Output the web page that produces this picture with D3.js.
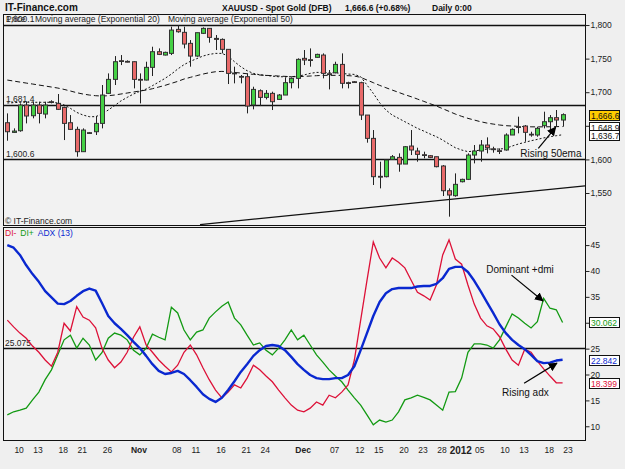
<!DOCTYPE html>
<html lang="en">
<head>
    <meta charset="UTF-8">
    <title>XAUUSD - Spot Gold (DFB)</title>
    <script src="https://d3js.org/d3.v7.min.js"></script>
    <style>
        body { margin: 0; background: #efefef; }
        svg { display: block; font-family: "Liberation Sans", Arial, sans-serif; }
        .axis text { font-size: 8.5px; fill: #222; }
        .axis line { stroke: #222; }
        .axis path { display: none; }
    </style>
</head>
<body>
    <div id="chart"></div>
    <script>
        // trading days shown (Sunday sessions included)
        const dates = [
            "2011-10-09","2011-10-10","2011-10-11","2011-10-12","2011-10-13","2011-10-14","2011-10-16","2011-10-17","2011-10-18","2011-10-19",
            "2011-10-20","2011-10-21","2011-10-23","2011-10-24","2011-10-25","2011-10-26","2011-10-27","2011-10-28","2011-10-30","2011-10-31",
            "2011-11-01","2011-11-02","2011-11-03","2011-11-04","2011-11-06","2011-11-07","2011-11-08","2011-11-09","2011-11-10","2011-11-11",
            "2011-11-13","2011-11-14","2011-11-15","2011-11-16","2011-11-17","2011-11-18","2011-11-20","2011-11-21","2011-11-22","2011-11-23",
            "2011-11-24","2011-11-25","2011-11-27","2011-11-28","2011-11-29","2011-11-30","2011-12-01","2011-12-02","2011-12-04","2011-12-05",
            "2011-12-06","2011-12-07","2011-12-08","2011-12-09","2011-12-11","2011-12-12","2011-12-13","2011-12-14","2011-12-15","2011-12-16",
            "2011-12-18","2011-12-19","2011-12-20","2011-12-21","2011-12-22","2011-12-23","2011-12-26","2011-12-27","2011-12-28","2011-12-29",
            "2011-12-30","2012-01-02","2012-01-03","2012-01-04","2012-01-05","2012-01-06","2012-01-08","2012-01-09","2012-01-10","2012-01-11",
            "2012-01-12","2012-01-13","2012-01-15","2012-01-16","2012-01-17","2012-01-18","2012-01-19","2012-01-20","2012-01-23"
        ];

        const open = [
            1654.6,1640.2,1642.7,1680.9,1665.0,1680.9,1667.5,1685.9,1683.4,1677.4,
            1654.6,1644.7,1611.5,1639.8,1641.2,1653.6,1698.3,1719.1,1746.9,1745.9,
            1745.4,1719.1,1718.1,1737.0,1760.3,1755.3,1757.8,1793.5,1789.1,1772.7,
            1753.8,1787.6,1795.0,1780.1,1778.6,1763.8,1728.5,1723.5,1723.1,1681.0,
            1702.2,1692.3,1698.3,1689.3,1695.8,1714.2,1720.6,1750.4,1748.4,1751.9,
            1755.3,1727.5,1729.0,1741.4,1714.2,1715.6,1714.2,1666.0,1631.3,1574.8,
            1574.3,1600.1,1603.0,1593.1,1619.9,1612.5,1607.0,1605.5,1604.0,1590.2,
            1553.4,1546.0,1566.8,1570.3,1606.5,1612.5,1621.4,1615.7,1613.0,1614.0,
            1636.3,1648.7,1649.7,1637.5,1636.3,1650.2,1656.1,1662.1,1658.6
        ];
        const high = [
            1668.5,1646.2,1683.4,1685.9,1685.9,1685.9,1685.9,1688.0,1697.3,1678.5,
            1666.0,1648.7,1646.2,1640.8,1664.6,1710.7,1728.0,1753.8,1755.3,1747.4,
            1745.9,1728.0,1745.4,1767.7,1765.2,1760.3,1797.5,1800.0,1797.5,1777.6,
            1788.6,1796.5,1795.0,1785.1,1780.1,1763.8,1738.0,1725.6,1728.0,1708.2,
            1704.2,1703.2,1700.8,1697.3,1722.1,1722.1,1750.4,1762.8,1765.2,1757.3,
            1757.8,1733.0,1745.4,1757.8,1715.6,1716.6,1715.6,1666.0,1643.7,1596.6,
            1599.1,1606.5,1609.0,1619.9,1643.7,1617.4,1611.5,1606.5,1604.0,1591.6,
            1556.9,1579.2,1571.3,1609.0,1621.4,1628.8,1632.8,1618.9,1616.4,1638.8,
            1646.2,1663.6,1651.2,1641.2,1648.7,1671.0,1666.0,1673.5,1668.5
        ];
        const low = [
            1627.8,1639.8,1641.2,1653.6,1661.1,1653.6,1661.1,1683.4,1673.5,1628.8,
            1643.7,1604.0,1611.5,1638.3,1636.3,1646.2,1697.3,1710.7,1740.4,1744.4,
            1705.7,1683.4,1717.6,1724.1,1755.3,1754.8,1755.3,1788.6,1765.2,1738.0,
            1752.8,1786.6,1773.7,1762.8,1757.8,1712.2,1713.2,1713.2,1668.5,1674.5,
            1679.4,1689.3,1673.5,1688.8,1695.8,1705.7,1705.7,1740.4,1738.0,1751.4,
            1720.6,1704.2,1728.0,1705.7,1705.7,1714.2,1658.6,1624.9,1561.9,1556.9,
            1573.3,1599.1,1581.7,1593.1,1606.5,1596.6,1601.6,1602.0,1588.2,1545.5,
            1514.8,1544.5,1565.8,1569.3,1594.1,1596.6,1609.0,1610.0,1608.0,1613.0,
            1636.3,1638.8,1626.4,1633.8,1633.8,1646.2,1643.7,1648.7,1648.7
        ];
        const close = [
            1641.2,1642.2,1680.9,1664.6,1680.9,1668.5,1680.9,1685.0,1674.5,1653.6,
            1644.7,1611.5,1643.7,1639.3,1653.6,1695.8,1719.1,1745.4,1746.4,1745.4,
            1719.1,1718.6,1737.0,1760.3,1756.3,1759.3,1792.5,1790.0,1771.7,1753.8,
            1788.6,1795.0,1781.6,1778.6,1763.8,1728.0,1728.0,1723.1,1679.4,1704.2,
            1692.3,1698.3,1685.9,1695.8,1714.2,1720.6,1748.9,1747.9,1747.9,1756.3,
            1728.0,1727.0,1741.4,1713.2,1713.7,1715.2,1666.0,1631.3,1574.3,1574.3,
            1599.1,1604.0,1593.1,1618.9,1614.0,1607.5,1606.5,1603.0,1589.2,1553.4,
            1547.0,1562.9,1570.3,1606.5,1612.5,1621.4,1617.4,1615.4,1612.9,1636.3,
            1644.7,1648.4,1640.3,1637.2,1646.2,1656.1,1662.1,1658.6,1666.6
        ];

        const ema20 = [
            1684.0,1684.5,1685.0,1685.0,1685.0,1685.0,1685.0,1685.0,1684.0,1681.0,
            1676.0,1670.0,1666.0,1663.6,1663.6,1667.5,1673.5,1680.0,1687.0,1692.3,
            1697.3,1701.3,1704.7,1709.7,1715.1,1720.6,1727.0,1734.5,1741.0,1745.9,
            1749.9,1753.8,1756.3,1757.8,1757.8,1753.8,1745.4,1738.0,1732.0,1728.0,
            1726.0,1725.0,1724.0,1723.0,1723.0,1723.0,1724.0,1725.6,1728.0,1729.5,
            1729.5,1729.0,1729.0,1728.0,1727.0,1726.5,1723.0,1710.7,1698.3,1684.4,
            1673.5,1666.0,1661.1,1656.1,1651.2,1646.2,1642.2,1637.8,1633.8,1628.8,
            1622.9,1617.4,1614.0,1611.5,1612.5,1614.0,1615.4,1615.4,1615.4,1616.4,
            1619.9,1622.9,1625.4,1627.8,1629.8,1632.0,1633.8,1635.3,1636.7
        ];
        const ema50 = [
            1718.1,1716.6,1715.1,1713.6,1712.2,1710.7,1709.2,1707.7,1706.2,1704.2,
            1701.8,1699.3,1697.3,1695.8,1694.8,1694.3,1694.8,1695.8,1697.3,1698.8,
            1700.3,1701.8,1703.2,1705.2,1707.7,1710.2,1713.2,1716.1,1719.6,1722.1,
            1724.6,1727.0,1729.0,1730.5,1731.0,1730.5,1729.5,1728.5,1727.5,1726.6,
            1725.6,1725.1,1724.6,1724.1,1723.6,1723.1,1723.1,1723.6,1724.1,1724.6,
            1725.1,1725.1,1725.1,1725.1,1724.6,1724.1,1722.1,1718.1,1714.2,1710.2,
            1706.7,1703.2,1699.8,1696.3,1693.3,1689.8,1686.4,1682.9,1679.4,1675.5,
            1671.5,1667.5,1664.1,1661.1,1658.6,1656.1,1654.1,1652.6,1651.2,1650.2,
            1649.7,1649.2,1648.7,1648.5,1648.4,1648.5,1648.6,1648.8,1648.9
        ];

        const diMinus = [
            30.5,29.2,28.0,27.0,25.5,24.3,22.8,21.6,24.3,29.9,
            28.4,33.1,31.1,30.5,29.0,25.1,22.8,21.3,22.4,24.3,
            27.2,29.2,25.7,24.3,22.8,21.6,20.5,21.8,24.3,25.7,
            23.8,21.3,19.0,17.0,15.5,16.6,18.0,17.4,19.3,21.8,
            20.9,19.7,18.6,17.0,15.5,14.1,13.1,12.8,13.5,14.7,
            14.1,16.0,15.5,16.6,18.0,22.8,30.5,38.2,45.6,42.5,
            40.6,42.5,41.7,40.6,38.2,35.9,35.2,34.4,37.3,43.1,
            46.0,42.3,41.3,37.3,33.6,30.9,29.4,28.8,27.3,24.9,
            22.8,21.8,24.9,24.3,22.6,21.1,19.7,18.4,18.399
        ];
        const diPlus = [
            12.2,12.8,13.1,13.5,15.1,16.6,19.0,20.9,23.8,26.7,
            27.6,25.1,27.0,25.7,22.8,24.2,27.0,28.0,27.6,26.7,
            24.7,23.8,25.1,27.8,27.2,26.7,33.0,31.9,28.6,26.7,
            28.2,28.6,30.9,32.1,33.2,34.0,30.9,29.6,27.6,25.7,
            26.1,24.7,23.8,25.1,26.7,28.6,26.7,27.6,25.7,23.8,
            22.4,20.9,19.7,18.6,17.0,15.5,14.1,12.2,10.3,11.2,
            10.8,11.2,12.8,15.1,15.5,16.0,15.6,15.1,14.1,13.1,
            16.6,16.7,19.3,24.3,25.9,25.9,25.7,25.1,26.7,29.2,
            31.7,30.9,29.9,29.0,30.2,34.7,32.8,32.5,30.062
        ];
        const adx = [
            45.0,44.5,43.1,41.1,39.4,37.9,36.1,34.9,33.7,33.6,
            34.2,35.2,36.1,36.6,36.2,33.8,31.3,29.9,28.8,27.6,
            26.3,25.1,23.6,22.0,20.7,20.1,20.3,20.7,20.1,18.9,
            17.6,16.2,15.3,14.7,15.5,17.0,18.7,20.5,22.0,23.6,
            24.7,25.5,25.7,25.5,24.7,23.4,22.0,20.9,19.9,19.3,
            19.1,19.1,19.3,19.3,19.9,21.6,24.7,28.0,31.3,34.0,
            35.7,36.5,36.7,36.7,36.7,37.0,37.1,37.1,37.5,38.6,
            40.4,40.8,40.8,39.8,38.1,36.1,34.0,31.9,29.7,28.0,
            26.7,25.7,24.9,23.8,22.6,22.2,22.3,22.7,22.842
        ];

        const tickDates = ["2011-10-10","2011-10-13","2011-10-18","2011-10-21","2011-10-26","2011-11-01","2011-11-08","2011-11-11",
            "2011-11-16","2011-11-21","2011-11-24","2011-12-01","2011-12-07","2011-12-12","2011-12-15","2011-12-20","2011-12-23",
            "2011-12-28","2012-01-02","2012-01-05","2012-01-10","2012-01-13","2012-01-18","2012-01-23"];
        const tickLabels = ["10","13","18","21","26","Nov","08","11","16","21","24","Dec","07","12","15","20","23","28","2012","05","10","13","18","23"];

        const priceTicks = [1550, 1600, 1650, 1700, 1750, 1800];
        const dmiTicks = [10, 15, 20, 25, 30, 35, 40, 45];
        const priceLevels = [1800.1, 1681.4, 1600.6];
        const dmiLevels = [25.075];
        // drawn support line, [bar index, price]
        const trendLine = [[30.54, 1503.0], [91.55, 1560.7]];

        const W = 625, H = 469;
        const left = 3.5, right = 585.5;
        const top1 = 14.5, bot1 = 225.5, top2 = 227.5, bot2 = 440.5;

        const svg = d3.select("#chart").append("svg")
            .attr("width", W).attr("height", H);

        svg.append("rect").attr("width", W).attr("height", H).attr("fill", "#efefef");

        const x = d3.scalePoint().domain(dates).range([7.3, 562.6]);
        const xi = i => x(dates[0]) + i * x.step();
        const yP = d3.scaleLinear().domain([1500.9, 1816.4]).range([226, 14]);
        const yI = d3.scaleLinear().domain([7.35, 48.3]).range([440, 228]);

        const defs = svg.append("defs");
        defs.append("clipPath").attr("id", "clipTop").append("rect")
            .attr("x", left).attr("y", top1).attr("width", right - left).attr("height", bot1 - top1);
        defs.append("clipPath").attr("id", "clipBot").append("rect")
            .attr("x", left).attr("y", top2).attr("width", right - left).attr("height", bot2 - top2);
        defs.append("marker").attr("id", "arrow")
            .attr("viewBox", "0 0 10 10").attr("refX", 9).attr("refY", 5)
            .attr("markerWidth", 9).attr("markerHeight", 9).attr("markerUnits", "userSpaceOnUse")
            .attr("orient", "auto")
            .append("path").attr("d", "M0,0L10,5L0,10z").attr("fill", "#000");

        // panels
        [[top1, bot1], [top2, bot2]].forEach(([a, b]) => {
            svg.append("rect")
                .attr("x", left).attr("y", a).attr("width", right - left).attr("height", b - a)
                .attr("fill", "#f2f2f2").attr("stroke", "#111").attr("stroke-width", 1);
        });

        // header
        svg.append("text").attr("x", 5).attr("y", 11)
            .attr("font-size", "10px").attr("font-weight", "bold").attr("fill", "#111")
            .text("IT-Finance.com");
        svg.append("text").attr("x", 222).attr("y", 11)
            .attr("font-size", "8.5px").attr("font-weight", "bold").attr("fill", "#111")
            .text("XAUUSD - Spot Gold (DFB)");
        svg.append("text").attr("x", 345).attr("y", 11)
            .attr("font-size", "8.5px").attr("font-weight", "bold").attr("fill", "#111")
            .text("1,666.6 (+0.68%)");
        svg.append("text").attr("x", 432).attr("y", 11)
            .attr("font-size", "8.5px").attr("font-weight", "bold").attr("fill", "#111")
            .text("Daily 0:00");

        const gTop = svg.append("g").attr("clip-path", "url(#clipTop)");
        const gBot = svg.append("g").attr("clip-path", "url(#clipBot)");

        // horizontal levels
        gTop.selectAll(".lvl").data(priceLevels).enter().append("line")
            .attr("x1", left).attr("x2", right)
            .attr("y1", d => Math.round(yP(d)) + 0.5).attr("y2", d => Math.round(yP(d)) + 0.5)
            .attr("stroke", "#111").attr("stroke-width", 1.3);
        gTop.selectAll(".lvlText").data(priceLevels).enter().append("text")
            .attr("x", 6).attr("y", d => yP(d) - 2.5)
            .attr("font-size", "8.5px").attr("fill", "#222")
            .text(d => d3.format(",.1f")(d));

        gBot.selectAll(".lvl").data(dmiLevels).enter().append("line")
            .attr("x1", left).attr("x2", right)
            .attr("y1", d => Math.round(yI(d)) + 0.5).attr("y2", d => Math.round(yI(d)) + 0.5)
            .attr("stroke", "#111").attr("stroke-width", 1.3);
        gBot.selectAll(".lvlText").data(dmiLevels).enter().append("text")
            .attr("x", 5).attr("y", d => yI(d) - 2.5)
            .attr("font-size", "8.5px").attr("fill", "#222")
            .text(d => d3.format(".3f")(d));

        // trend line
        gTop.append("line")
            .attr("x1", xi(trendLine[0][0])).attr("y1", yP(trendLine[0][1]))
            .attr("x2", xi(trendLine[1][0])).attr("y2", yP(trendLine[1][1]))
            .attr("stroke", "#111").attr("stroke-width", 1.3);

        // moving averages
        const lineP = d3.line().x((d, i) => x(dates[i])).y(d => yP(d));
        gTop.append("path").attr("d", lineP(ema50))
            .attr("fill", "none").attr("stroke", "#111").attr("stroke-width", 1)
            .attr("stroke-dasharray", "5,3");
        gTop.append("path").attr("d", lineP(ema20))
            .attr("fill", "none").attr("stroke", "#111").attr("stroke-width", 1)
            .attr("stroke-dasharray", "2,2");

        // candles
        const candles = dates.map((d, i) => ({date: d, o: open[i], h: high[i], l: low[i], c: close[i]}));
        const cg = gTop.selectAll(".candle").data(candles).enter().append("g");
        cg.append("line")
            .attr("x1", d => Math.round(x(d.date)) + 0.5).attr("x2", d => Math.round(x(d.date)) + 0.5)
            .attr("y1", d => yP(d.h)).attr("y2", d => yP(d.l))
            .attr("stroke", "#222").attr("stroke-width", 1);
        cg.append("rect")
            .attr("x", d => Math.round(x(d.date)) - 1.5)
            .attr("y", d => yP(Math.max(d.o, d.c)))
            .attr("width", 4)
            .attr("height", d => Math.max(0.8, Math.abs(yP(d.o) - yP(d.c))))
            .attr("fill", d => d.c >= d.o ? "#45d045" : "#e86a6a")
            .attr("stroke", "#333").attr("stroke-width", 1);

        // upper legend
        gTop.append("text").attr("x", 6).attr("y", 22)
            .attr("font-size", "8.5px").attr("fill", "#222").text("Price");
        gTop.append("text").attr("x", 35).attr("y", 22)
            .attr("font-size", "8.5px").attr("fill", "#222").text("Moving average (Exponential 20)");
        gTop.append("text").attr("x", 168).attr("y", 22)
            .attr("font-size", "8.5px").attr("fill", "#222").text("Moving average (Exponential 50)");
        gTop.append("text").attr("x", 5).attr("y", 224)
            .attr("font-size", "8.5px").attr("fill", "#222").text("\u00a9 IT-Finance.com");

        // DMI lines
        const lineI = d3.line().x((d, i) => x(dates[i])).y(d => yI(d));
        gBot.append("path").attr("d", lineI(diPlus))
            .attr("fill", "none").attr("stroke", "#139a13").attr("stroke-width", 1.3);
        gBot.append("path").attr("d", lineI(diMinus))
            .attr("fill", "none").attr("stroke", "#dd1138").attr("stroke-width", 1.3);
        gBot.append("path").attr("d", lineI(adx))
            .attr("fill", "none").attr("stroke", "#0a28d0").attr("stroke-width", 2.4)
            .attr("stroke-linejoin", "round");

        const leg = svg.append("text").attr("x", 5).attr("y", 236).attr("font-size", "8.5px");
        leg.append("tspan").attr("fill", "#dd1138").text("DI-");
        leg.append("tspan").attr("fill", "#139a13").attr("dx", 4).text("DI+");
        leg.append("tspan").attr("fill", "#0a28d0").attr("dx", 4).text("ADX (13)");

        // annotations
        const notes = [
            {panel: "top", text: "Rising 50ema", tx: 81.3, ty: 1603, from: [84.15, 1616.5], to: [86.9, 1647.8]},
            {panel: "bot", text: "Dominant +dmi", tx: 75.9, ty: 39.6, from: [79.9, 39.2], to: [84.9, 34.2]},
            {panel: "bot", text: "Rising adx", tx: 78.4, ty: 15.9, from: [81.9, 18.3], to: [87.1, 22.2]}
        ];
        notes.forEach(n => {
            const ys = n.panel === "top" ? yP : yI;
            svg.append("text").attr("x", xi(n.tx)).attr("y", ys(n.ty))
                .attr("font-size", "10px").attr("fill", "#111").text(n.text);
            svg.append("line")
                .attr("x1", xi(n.from[0])).attr("y1", ys(n.from[1]))
                .attr("x2", xi(n.to[0])).attr("y2", ys(n.to[1]))
                .attr("stroke", "#000").attr("stroke-width", 1.2)
                .attr("marker-end", "url(#arrow)");
        });

        // right axes
        svg.append("g").attr("class", "axis")
            .attr("transform", `translate(${right},0)`)
            .call(d3.axisRight(yP).tickValues(priceTicks).tickSize(4).tickPadding(1).tickFormat(d3.format(",")));
        svg.append("g").attr("class", "axis")
            .attr("transform", `translate(${right},0)`)
            .call(d3.axisRight(yI).tickValues(dmiTicks).tickSize(4).tickPadding(1).tickFormat(d3.format("d")));

        // value boxes
        const boxes = [
            {y: yP(ema50[ema50.length - 1]), v: d3.format(",.1f")(ema50[ema50.length - 1]), fill: "#fff", col: "#111"},
            {y: yP(ema20[ema20.length - 1]), v: d3.format(",.1f")(ema20[ema20.length - 1]), fill: "#fff", col: "#111"},
            {y: yP(close[close.length - 1]), v: d3.format(",.1f")(close[close.length - 1]), fill: "#ffcc00", col: "#111"},
            {y: yI(diPlus[diPlus.length - 1]), v: d3.format(".3f")(diPlus[diPlus.length - 1]), fill: "#fff", col: "#139a13"},
            {y: yI(adx[adx.length - 1]), v: d3.format(".3f")(adx[adx.length - 1]), fill: "#fff", col: "#0a28d0"},
            {y: yI(diMinus[diMinus.length - 1]), v: d3.format(".3f")(diMinus[diMinus.length - 1]), fill: "#fff", col: "#dd1138"}
        ];
        boxes.forEach(b => {
            svg.append("rect").attr("x", 589.5).attr("y", Math.round(b.y) - 4.5)
                .attr("width", 30).attr("height", 10)
                .attr("fill", b.fill).attr("stroke", "#111").attr("stroke-width", 1);
            svg.append("text").attr("x", 591).attr("y", Math.round(b.y) + 3.5)
                .attr("font-size", "8.5px").attr("fill", b.col).text(b.v);
        });

        // x axis labels, month / year names in bold
        const isName = t => isNaN(+t) || t === "2012";
        svg.selectAll(".xlab").data(tickDates).enter().append("text")
            .attr("x", d => x(d) + 5.5)
            .attr("y", (d, i) => tickLabels[i] === "2012" ? 453.5 : 452.5)
            .attr("text-anchor", "middle")
            .attr("font-size", (d, i) => tickLabels[i] === "2012" ? "10px" : "8.5px")
            .attr("font-weight", (d, i) => isName(tickLabels[i]) ? "bold" : "normal")
            .attr("fill", "#222")
            .text((d, i) => tickLabels[i]);
    </script>
</body>
</html>
